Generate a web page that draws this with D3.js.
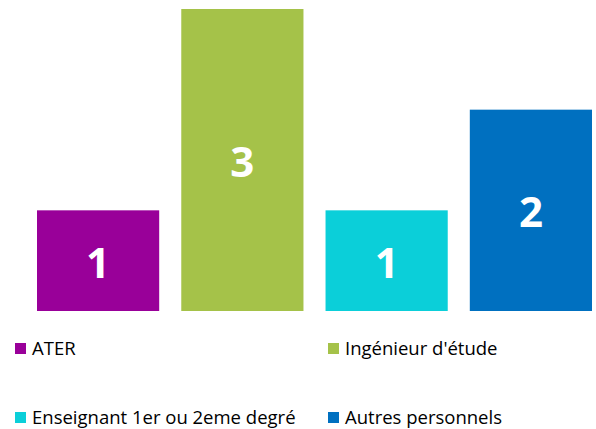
<!DOCTYPE html>
<html>
<head>
<meta charset="utf-8">
<script src="https://cdn.jsdelivr.net/npm/d3@7"></script>
<style>
  body { margin: 0; background: #fff; }
  text { font-family: "Open Sans", sans-serif; }
</style>
</head>
<body>
<div id="chart"></div>
<script>
const categories = ["ATER", "Ingénieur d'étude", "Enseignant 1er ou 2eme degré", "Autres personnels"];
const values = [1, 3, 1, 2];
const colors = ["#990099", "#A5C249", "#0BCFD9", "#0070C0"];

const width = 596, height = 429;
const margin = { top: 9, right: 4, bottom: 118, left: 37 };
const innerWidth = width - margin.left - margin.right;
const innerHeight = height - margin.top - margin.bottom;

const data = categories.map((c, i) => ({ cat: c, value: values[i], color: colors[i] }));

const svg = d3.select("#chart")
    .append("svg")
    .attr("width", width)
    .attr("height", height);

const inner = svg.append("g")
    .attr("transform", `translate(${margin.left}, ${margin.top})`);

const xScale = d3.scaleBand()
    .domain(categories)
    .range([0, innerWidth])
    .paddingInner(0.153)
    .paddingOuter(0);

const yScale = d3.scaleLinear()
    .domain([0, 3])
    .range([innerHeight, 0]);

inner.selectAll("rect")
    .data(data)
    .join("rect")
    .attr("x", d => xScale(d.cat))
    .attr("y", d => yScale(d.value))
    .attr("width", xScale.bandwidth())
    .attr("height", d => innerHeight - yScale(d.value))
    .attr("fill", d => d.color);

inner.selectAll(".bar-label")
    .data(data)
    .join("text")
    .attr("class", "bar-label")
    .attr("x", d => xScale(d.cat) + xScale.bandwidth() / 2)
    .attr("y", d => (yScale(d.value) + innerHeight) / 2 + 17)
    .attr("text-anchor", "middle")
    .attr("fill", "#fff")
    .attr("font-weight", "bold")
    .attr("font-size", 42)
    .text(d => d.value);

// legend, 2 columns
const legendX = [15, 328];
const legendY = [343, 412];

const legend = svg.selectAll(".legend")
    .data(data)
    .join("g")
    .attr("class", "legend")
    .attr("transform", (d, i) => `translate(${legendX[i % 2]}, ${legendY[Math.floor(i / 2)]})`);

legend.append("rect")
    .attr("width", 11)
    .attr("height", 11)
    .attr("fill", d => d.color);

legend.append("text")
    .attr("x", 17)
    .attr("y", 11.5)
    .attr("font-size", 18.5)
    .attr("fill", "#000")
    .text(d => d.cat);
</script>
</body>
</html>
